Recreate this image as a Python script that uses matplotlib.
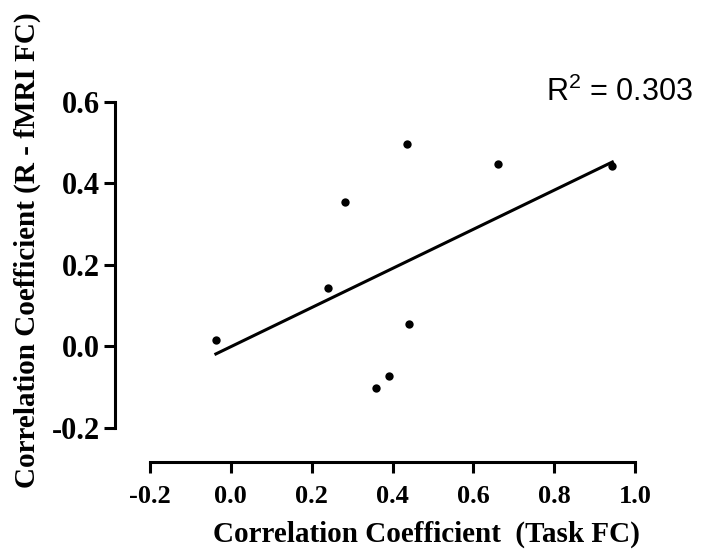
import numpy as np
import matplotlib
matplotlib.use("Agg")
import matplotlib.pyplot as plt

plt.rcParams["mathtext.fontset"] = "custom"
plt.rcParams["mathtext.rm"] = "Liberation Sans"
plt.rcParams["mathtext.it"] = "Liberation Sans"
plt.rcParams["mathtext.bf"] = "Liberation Sans:bold"

task_fc = [-0.037, 0.240, 0.282, 0.437, 0.441, 0.392, 0.360, 0.661, 0.944]
rest_fc = [0.016, 0.142, 0.354, 0.495, 0.055, -0.072, -0.103, 0.446, 0.442]
x_ticks = [-0.2, 0.0, 0.2, 0.4, 0.6, 0.8, 1.0]
y_ticks = [-0.2, 0.0, 0.2, 0.4, 0.6]
r2_text = r"R$^{\mathrm{2}}$ = 0.303"

fig = plt.figure(figsize=(7.11, 5.5), dpi=100)
ax = fig.add_axes([150/711, 122.3/550, 485/711, 326/550])
ax.set_xlim(-0.2, 1.0)
ax.set_ylim(-0.2, 0.6)

serif = "Liberation Serif"
x = np.array(task_fc)
y = np.array(rest_fc)
slope, intercept = np.polyfit(x, y, 1)
xl = np.array([x.min(), x.max()])
ax.plot(xl, slope * xl + intercept, color="black", lw=2.2, clip_on=False, zorder=2)
ax.scatter(x, y, s=36, color="black", clip_on=False, zorder=3, linewidths=0)

for side in ("top", "right"):
    ax.spines[side].set_visible(False)
for side in ("left", "bottom"):
    ax.spines[side].set_position(("outward", 25))
    ax.spines[side].set_linewidth(2.2)
ax.spines["left"].set_bounds(-0.2, 0.6)
ax.spines["bottom"].set_bounds(-0.2, 1.0)

ax.set_xticks(x_ticks)
ax.set_yticks(y_ticks)
ax.set_xticklabels([f"{v:.1f}" for v in x_ticks])
ax.set_yticklabels([f"{v:.1f}" for v in y_ticks])
ax.tick_params(axis="both", length=8, width=2.2, color="black")
ax.tick_params(axis="x", labelsize=19, pad=8)
ax.tick_params(axis="y", labelsize=22, pad=3)
for lab in ax.get_xticklabels() + ax.get_yticklabels():
    lab.set_fontfamily(serif)
    lab.set_fontweight("bold")

ax.set_xlabel("Correlation Coefficient  (Task FC)", fontfamily=serif,
              fontweight="bold", fontsize=21)
ax.set_ylabel("Correlation Coefficient (R - fMRI FC)", fontfamily=serif,
              fontweight="bold", fontsize=21)
ax.yaxis.set_label_coords(-0.225, 0.545)
ax.xaxis.set_label_coords((426 - 150) / 485, -0.285)

ax.text((693 - 150) / 485, 1.03, r2_text, transform=ax.transAxes, ha="right",
        va="center", fontsize=22, fontfamily="Liberation Sans", color="black")

fig.savefig("out.png", dpi=100, facecolor="white")
